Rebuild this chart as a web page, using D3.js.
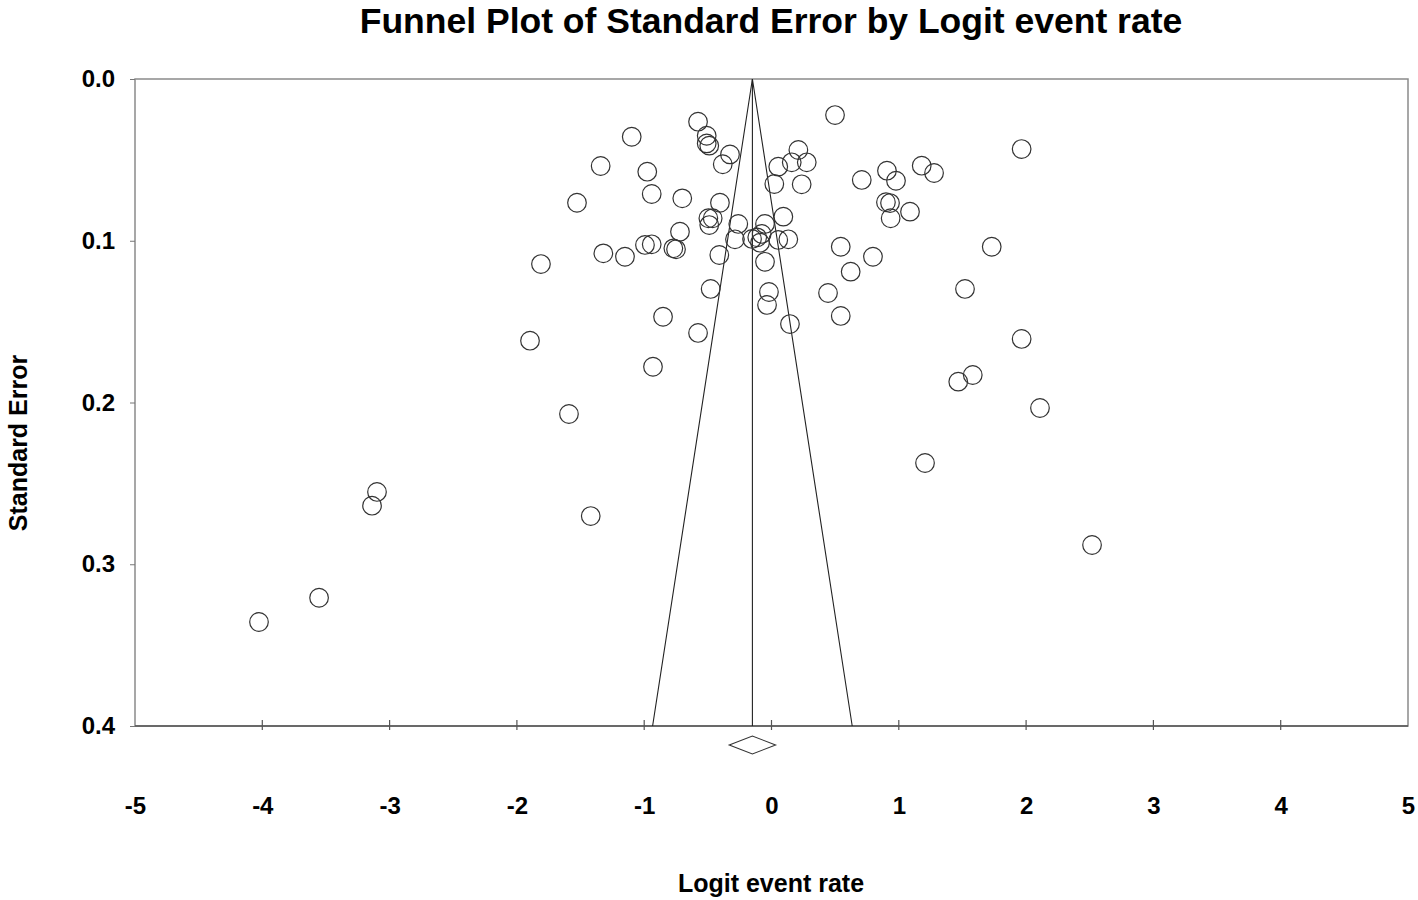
<!DOCTYPE html>
<html>
<head>
<meta charset="utf-8">
<script src="https://cdn.jsdelivr.net/npm/d3@7"></script>
<style>
  html, body { margin: 0; padding: 0; background: #fff; }
  svg { display: block; }
  text { font-family: "Liberation Sans", Arial, sans-serif; font-weight: bold; fill: #000; }
</style>
</head>
<body>
<svg id="chart" width="1418" height="900"></svg>
<script>
// ---- data ----
const logitRate = [
  0.499, -0.577, -1.098, -0.509, -0.509, -0.489, -0.326, -0.383, -1.342, 1.965,
  0.211, 0.159, 0.277, 0.053, 1.180, 1.277, 0.907, 0.978, 0.709, -0.976,
  0.237, 0.022, -0.941, -0.701, -1.528, -0.405, 0.899, 0.931, 1.088, 0.936,
  -0.496, -0.462, -0.489, -0.261, -0.051, 0.093, -0.719, -0.287, -0.153, -0.112,
  -0.077, -0.090, 0.053, 0.132, -0.994, -0.941, -0.771, -0.750, 0.544, 1.730,
  -1.321, -1.151, -0.410, -0.051, 0.797, 0.622, -1.811, -0.478, 0.444, -0.020,
  1.520, -0.035, -0.852, 0.544, 0.145, -0.577, -1.897, 1.965, -0.931, 1.581,
  1.467, -1.591, 2.109, 1.206, -3.099, -3.138, -1.420, 2.518, -3.554, -4.026
];
const stdError = [
  0.0223, 0.0264, 0.0357, 0.0351, 0.0398, 0.0412, 0.0466, 0.0527, 0.0538, 0.0433,
  0.0439, 0.0515, 0.0515, 0.0542, 0.0536, 0.0581, 0.0567, 0.0629, 0.0624, 0.0573,
  0.0651, 0.0649, 0.0711, 0.0738, 0.0765, 0.0765, 0.0762, 0.0767, 0.0820, 0.0861,
  0.0861, 0.0861, 0.0903, 0.0896, 0.0896, 0.0851, 0.0944, 0.0991, 0.0989, 0.0979,
  0.0958, 0.1012, 0.0995, 0.0991, 0.1026, 0.1022, 0.1047, 0.1053, 0.1037, 0.1037,
  0.1078, 0.1099, 0.1088, 0.1130, 0.1099, 0.1191, 0.1144, 0.1298, 0.1323, 0.1317,
  0.1298, 0.1397, 0.1470, 0.1465, 0.1515, 0.1570, 0.1618, 0.1607, 0.1779, 0.1830,
  0.1871, 0.2071, 0.2034, 0.2374, 0.2553, 0.2638, 0.2702, 0.2881, 0.3207, 0.3357
];
const pooledEstimate = -0.150;
const pooledCI = [-0.332, 0.032];
const xTickLabels = [-5, -4, -3, -2, -1, 0, 1, 2, 3, 4, 5];
const xTickMarks = [-4, -3, -2, -1, 0, 1, 2, 3, 4];
const yTickLabels = [0.0, 0.1, 0.2, 0.3, 0.4];
const titleText = "Funnel Plot of Standard Error by Logit event rate";
const xTitle = "Logit event rate";
const yTitle = "Standard Error";

// ---- layout ----
const svg = d3.select("#chart");
const pLeft = 135, pRight = 1408, pTop = 79, pBottom = 726;
const x = d3.scaleLinear().domain([-5, 5]).range([pLeft, pRight]);
const y = d3.scaleLinear().domain([0, 0.4]).range([pTop, pBottom]);
const FONT = '"Liberation Sans", Arial, sans-serif';

// title
svg.append("text")
  .attr("x", 771).attr("y", 33)
  .attr("text-anchor", "middle")
  .style("font-size", "35.5px")
  .text(titleText);

// plot frame
svg.append("rect")
  .attr("x", pLeft).attr("y", pTop)
  .attr("width", pRight - pLeft).attr("height", pBottom - pTop)
  .attr("fill", "none").attr("stroke", "#8a8a8a").attr("stroke-width", 1.5);
svg.append("line")
  .attr("x1", pLeft).attr("x2", pRight).attr("y1", pBottom).attr("y2", pBottom)
  .attr("stroke", "#555").attr("stroke-width", 1.5);

// y axis
const yAxis = d3.axisLeft(y).tickValues(yTickLabels).tickSize(5).tickPadding(15)
  .tickFormat(d => d.toFixed(1));
const yg = svg.append("g").attr("transform", `translate(${pLeft},0)`).call(yAxis);
yg.select(".domain").remove();
yg.selectAll(".tick line").attr("stroke", "#777");
yg.selectAll(".tick text").style("font-size", "24px")
  .style("font-family", FONT).style("font-weight", "bold").attr("fill", "#000");

// x axis labels (set far below the plot frame), plain hyphen minus
const xAxis = d3.axisBottom(x).tickValues(xTickLabels).tickSize(0).tickPadding(71)
  .tickFormat(d => String(d));
const xg = svg.append("g").attr("transform", `translate(0,${pBottom})`).call(xAxis);
xg.select(".domain").remove();
xg.selectAll(".tick text").style("font-size", "24px")
  .style("font-family", FONT).style("font-weight", "bold").attr("fill", "#000");

// x tick marks crossing the bottom edge
svg.append("g").selectAll("line").data(xTickMarks).join("line")
  .attr("x1", d => x(d)).attr("x2", d => x(d))
  .attr("y1", pBottom - 6).attr("y2", pBottom + 4)
  .attr("stroke", "#555").attr("stroke-width", 1.2);

// axis titles
svg.append("text")
  .attr("x", 771).attr("y", 892)
  .attr("text-anchor", "middle")
  .style("font-size", "25px")
  .text(xTitle);
svg.append("text")
  .attr("transform", "translate(27,443) rotate(-90)")
  .attr("text-anchor", "middle")
  .style("font-size", "25px")
  .text(yTitle);

// funnel
const zCrit = 1.96;
const seMax = 0.4;
svg.append("path")
  .attr("d", d3.line()([
    [x(pooledEstimate - zCrit * seMax), y(seMax)],
    [x(pooledEstimate), y(0)],
    [x(pooledEstimate + zCrit * seMax), y(seMax)]
  ]))
  .attr("fill", "none").attr("stroke", "#222").attr("stroke-width", 1.1);
svg.append("line")
  .attr("x1", x(pooledEstimate)).attr("x2", x(pooledEstimate))
  .attr("y1", y(0)).attr("y2", y(seMax))
  .attr("stroke", "#222").attr("stroke-width", 1.1);

// study points
const pts = logitRate.map((v, i) => ({ v, se: stdError[i] }));
svg.append("g").selectAll("circle").data(pts).join("circle")
  .attr("cx", d => x(d.v)).attr("cy", d => y(d.se)).attr("r", 9.3)
  .attr("fill", "none").attr("stroke", "#333").attr("stroke-width", 1.2);

// pooled diamond
const dy = 745, dh = 9;
svg.append("path")
  .attr("d", d3.line()([
    [x(pooledCI[0]), dy], [x(pooledEstimate), dy - dh],
    [x(pooledCI[1]), dy], [x(pooledEstimate), dy + dh]
  ]) + "Z")
  .attr("fill", "none").attr("stroke", "#333").attr("stroke-width", 1.1);
</script>
</body>
</html>
